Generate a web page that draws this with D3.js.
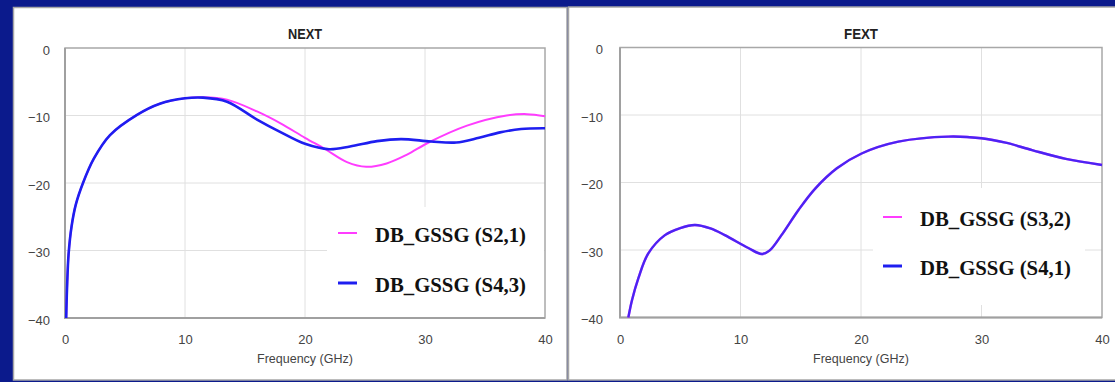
<!DOCTYPE html>
<html>
<head>
<meta charset="utf-8">
<script src="https://cdn.jsdelivr.net/npm/d3@7/dist/d3.min.js"></script>
<style>
  html, body { margin: 0; padding: 0; background: #0b1a8c; }
  svg { display: block; }
</style>
</head>
<body>
<svg id="chart" width="1115" height="382"></svg>
<script>
// ---------- data ----------
const freqTicks = [0, 10, 20, 30, 40];
const dbTicks = [0, -10, -20, -30, -40];
const xLabel = "Frequency (GHz)";

const nextTitle = "NEXT";
const fextTitle = "FEXT";

const nextLegend = ["DB_GSSG (S2,1)", "DB_GSSG (S4,3)"];
const fextLegend = ["DB_GSSG (S3,2)", "DB_GSSG (S4,1)"];

// NEXT S2,1 (magenta)
const nextS21 = [
  [0.1, -40], [0.17, -35.5], [0.3, -30.5], [0.55, -26.4], [0.9, -23.2], [1.5, -20],
  [2.4, -16.4], [3.75, -12.9], [6, -9.9], [7.9, -8.25], [10, -7.45], [11.5, -7.3],
  [13.5, -7.65], [16, -9.4], [18, -11.2], [20, -13.3], [21.7, -15.0], [23.5, -16.9],
  [25.1, -17.6], [26.8, -17.1], [28.5, -15.8], [30.3, -14.0], [33.5, -11.5],
  [36.8, -10.0], [38.5, -9.8], [40, -10.1]
];
// NEXT S4,3 (blue)
const nextS43 = [
  [0.1, -40], [0.17, -35.5], [0.3, -30.5], [0.55, -26.4], [0.9, -23.2], [1.5, -20],
  [2.4, -16.4], [3.75, -12.9], [6, -9.9], [7.9, -8.25], [10, -7.45], [11.5, -7.35],
  [13.5, -7.95], [16, -10.6], [18, -12.5], [20, -14.2], [22, -15.0], [23.75, -14.6],
  [26, -13.8], [28, -13.5], [30.5, -13.85], [32.6, -14.0], [34.5, -13.3], [36.25, -12.5],
  [38, -12.0], [40, -11.9]
];
// FEXT S3,2 (magenta) and S4,1 (blue) overlap
const fextS32 = [
  [0.69, -40], [1.0, -37.4], [1.52, -34.2], [2.35, -30.5], [3.73, -27.8], [5, -26.75],
  [6.22, -26.3], [7.5, -26.8], [8.7, -27.8], [10.65, -29.7], [11.76, -30.6], [12.4, -30.1],
  [13.4, -27.8], [14.8, -24.1], [16.2, -20.9], [18, -17.9], [20.05, -15.7], [23.1, -13.95],
  [27.25, -13.2], [30, -13.45], [32, -14.1], [34.2, -15.2], [37, -16.5], [40, -17.4]
];
const fextS41 = [
  [0.69, -40], [1.0, -37.4], [1.52, -34.2], [2.35, -30.5], [3.73, -27.8], [5, -26.75],
  [6.22, -26.3], [7.5, -26.8], [8.7, -27.8], [10.65, -29.7], [11.76, -30.6], [12.4, -30.1],
  [13.4, -27.8], [14.8, -24.1], [16.2, -20.9], [18, -17.9], [20.05, -15.7], [23.1, -13.95],
  [27.25, -13.2], [30, -13.45], [32, -14.1], [34.2, -15.2], [37, -16.5], [40, -17.4]
];

const MAGENTA = "#ff3cff";
const BLUE = "#1e1ef0";

// ---------- drawing ----------
const svg = d3.select("#chart");

function panel(cfg) {
  const g = svg.append("g");
  g.append("rect")
    .attr("x", cfg.px).attr("y", cfg.py).attr("width", cfg.pw).attr("height", cfg.ph)
    .attr("fill", "#ffffff").attr("stroke", "#a6a6a6").attr("stroke-width", 1.5);

  const x = d3.scaleLinear().domain([0, 40]).range([cfg.x0, cfg.x1]);
  const y = d3.scaleLinear().domain([-40, 0]).range([cfg.y1, cfg.y0]);

  const grid = g.append("g").attr("stroke", "#e0e0e0").attr("stroke-width", 1);
  grid.selectAll(".vx").data(freqTicks.slice(1, -1)).join("line")
    .attr("x1", d => x(d)).attr("x2", d => x(d))
    .attr("y1", cfg.y0).attr("y2", cfg.y1);
  grid.selectAll(".hy").data(dbTicks.slice(1, -1)).join("line")
    .attr("x1", cfg.x0).attr("x2", cfg.x1)
    .attr("y1", d => y(d)).attr("y2", d => y(d));

  g.append("rect")
    .attr("x", cfg.lbx).attr("y", cfg.lby).attr("width", cfg.lbw).attr("height", cfg.lbh)
    .attr("fill", "#ffffff");

  g.append("rect")
    .attr("x", cfg.x0).attr("y", cfg.y0)
    .attr("width", cfg.x1 - cfg.x0).attr("height", cfg.y1 - cfg.y0)
    .attr("fill", "none").attr("stroke", "#a8a8a8").attr("stroke-width", 1.5);
  g.append("path")
    .attr("d", `M${cfg.x0},${cfg.y0}V${cfg.y1}H${cfg.x1}`)
    .attr("fill", "none").attr("stroke", "#a0a0a0").attr("stroke-width", 2);

  const xAxis = d3.axisBottom(x).tickValues(freqTicks).tickSize(0).tickPadding(0).tickFormat(d3.format("d"));
  const yAxis = d3.axisLeft(y).tickValues(dbTicks).tickSize(0).tickPadding(0).tickFormat(d3.format("d"));
  const xa = g.append("g").attr("transform", `translate(0,${cfg.y1 + 17})`).call(xAxis);
  const ya = g.append("g").attr("transform", `translate(${cfg.x0 - cfg.yPad},2)`).call(yAxis);
  [xa, ya].forEach(a => {
    a.select(".domain").remove();
    a.selectAll("text")
      .attr("font-family", "Liberation Sans, Arial, sans-serif")
      .attr("font-size", 13).attr("fill", "#444");
  });

  g.append("text")
    .attr("x", (cfg.x0 + cfg.x1) / 2).attr("y", cfg.y1 + 45)
    .attr("text-anchor", "middle")
    .attr("font-family", "Liberation Sans, Arial, sans-serif")
    .attr("font-size", 12.5).attr("fill", "#444")
    .text(xLabel);

  g.append("text")
    .attr("x", (cfg.x0 + cfg.x1) / 2).attr("y", 39)
    .attr("text-anchor", "middle")
    .attr("font-family", "Liberation Sans, Arial, sans-serif")
    .attr("font-weight", "bold")
    .attr("font-size", 14).attr("fill", "#222")
    .attr("textLength", 34).attr("lengthAdjust", "spacingAndGlyphs")
    .text(cfg.title);

  const line = d3.line().x(d => x(d[0])).y(d => y(d[1])).curve(d3.curveCatmullRom.alpha(0.5));
  cfg.series.forEach(s => {
    g.append("path")
      .datum(s.data)
      .attr("d", line)
      .attr("fill", "none")
      .attr("stroke", s.color)
      .attr("stroke-width", s.width)
      .attr("stroke-opacity", s.opacity)
      .attr("stroke-linejoin", "round");
  });

  cfg.legend.forEach((lab, i) => {
    const ly = cfg.legY[i];
    g.append("line")
      .attr("x1", cfg.legX).attr("x2", cfg.legX + 19)
      .attr("y1", ly).attr("y2", ly)
      .attr("stroke", cfg.series[i].color).attr("stroke-width", i === 0 ? 2 : 3);
    g.append("text")
      .attr("x", cfg.legX + 37).attr("y", ly + 9)
      .attr("font-family", "Liberation Serif, 'Times New Roman', serif")
      .attr("font-weight", "bold")
      .attr("font-size", 20).attr("fill", "#111")
      .attr("textLength", 151).attr("lengthAdjust", "spacingAndGlyphs")
      .text(lab);
  });
}

panel({
  px: 13.5, py: 7.5, pw: 553.5, ph: 372.5,
  x0: 65, x1: 545, y0: 48, y1: 318, yPad: 15,
  lbx: 327, lby: 207, lbw: 217, lbh: 110,
  title: nextTitle,
  series: [
    { data: nextS21, color: MAGENTA, width: 2, opacity: 1 },
    { data: nextS43, color: BLUE, width: 2.6, opacity: 1 }
  ],
  legend: nextLegend,
  legX: 338, legY: [233, 283]
});

panel({
  px: 568.5, py: 7, pw: 560, ph: 373,
  x0: 620, x1: 1102, y0: 47.5, y1: 317.5, yPad: 17,
  lbx: 873, lby: 188, lbw: 212, lbh: 117,
  title: fextTitle,
  series: [
    { data: fextS32, color: MAGENTA, width: 2.4, opacity: 1 },
    { data: fextS41, color: BLUE, width: 2.4, opacity: 0.8 }
  ],
  legend: fextLegend,
  legX: 883, legY: [217, 266]
});
</script>
</body>
</html>
